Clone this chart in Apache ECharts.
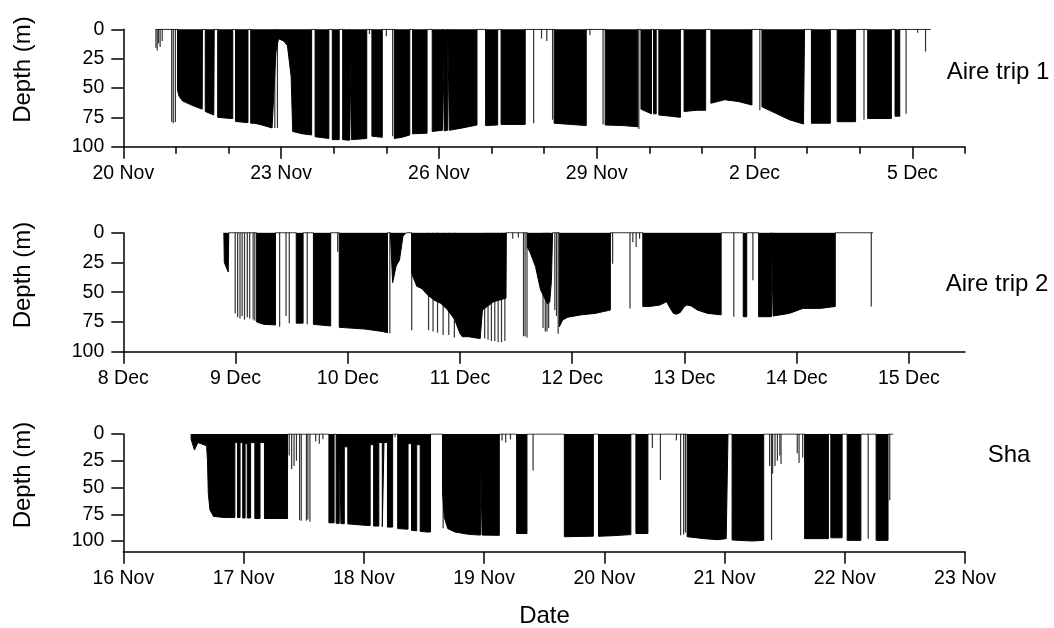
<!DOCTYPE html>
<html>
<head>
<meta charset="utf-8">
<script src="https://cdn.jsdelivr.net/npm/echarts@6/dist/echarts.min.js"></script>
<style>html,body{margin:0;padding:0;background:#fff;}#chart{width:1054px;height:628px;}</style>
</head>
<body>
<div id="chart"></div>
<script>
// ---------- DATA (x = days since first axis date, y = depth in m) ----------
// Panel 1: Aire trip 1 (axis starts 20 Nov)
const trip1TickValues = [0, 3, 6, 9, 12, 15];
const trip1TickLabels = ['20 Nov', '23 Nov', '26 Nov', '29 Nov', '2 Dec', '5 Dec'];
const trip1DayTicks = [0,1,2,3,4,5,6,7,8,9,10,11,12,13,14,15,16];
const trip1Profile = [
  [0.615,0],[1.03,0],[1.03,52],[1.06,57],[1.125,61],[1.32,65],[1.50,68],[1.505,0],
  [1.558,0],[1.558,70],[1.72,73],[1.728,0],
  [1.794,0],[1.794,75],[2.042,76],[2.081,76],[2.081,0],
  [2.134,0],[2.134,78.5],[2.37,79.5],[2.37,0],
  [2.422,0],[2.422,80],[2.5,80],[2.631,81.5],[2.828,84],[2.86,84],[2.9,20],[2.95,8],[3.05,10],[3.12,14],[3.19,40],[3.22,87],[3.4,89],[3.58,90],[3.58,0],
  [3.646,0],[3.646,91.5],[3.908,93],[3.908,0],
  [3.973,0],[3.973,94],[4.104,94],[4.104,0],
  [4.17,0],[4.17,94],[4.30,94.5],[4.30,0],
  [4.334,0],[4.334,94],[4.628,93],[4.628,0],
  [4.726,0],[4.726,91],[4.923,92],[4.923,0],
  [5.152,0],[5.152,93],[5.30,92],[5.446,90],[5.446,0],
  [5.499,0],[5.499,89],[5.774,88.5],[5.774,0],
  [5.872,0],[5.872,87],[6.068,86],[6.068,0],
  [6.101,0],[6.101,86.5],[6.167,86],[6.167,0],
  [6.199,0],[6.199,86],[6.45,84],[6.723,81.5],[6.723,0],
  [6.887,0],[6.887,82],[7.116,81.5],[7.116,0],
  [7.181,0],[7.181,81],[7.64,81],[7.64,0],
  [8.19,0],[8.19,80],[8.5,81],[8.80,82],[8.80,0],
  [9.16,0],[9.16,81.5],[9.5,82],[9.78,83],[9.78,0],
  [9.84,0],[9.84,68],[10.04,72],[10.04,0],
  [10.08,0],[10.08,72],[10.13,72],[10.13,0],
  [10.18,0],[10.18,73],[10.4,74],[10.59,75],[10.59,0],
  [10.66,0],[10.66,70],[10.9,69],[11.07,69],[11.07,0],
  [11.17,0],[11.17,63],[11.43,60],[11.69,61.5],[11.95,64.5],[11.95,0],
  [12.14,0],[12.14,66],[12.40,71.5],[12.66,77],[12.93,80.7],[12.95,80.7],[12.95,0],
  [13.08,0],[13.08,80],[13.44,80],[13.44,0],
  [13.57,0],[13.57,78.7],[13.92,78.7],[13.92,0],
  [14.15,0],[14.15,76],[14.6,76],[14.6,0],
  [14.67,0],[14.67,74],[14.76,74],[14.76,0],
  [15.35,0]
];
const trip1Dives = [
  [0.62,16],[0.645,18],[0.67,12],[0.7,15],[0.74,10],[0.92,79],[0.95,80],[0.99,79],
  [2.88,84],[2.93,84],[4.68,4],[5.0,6],[5.12,91],[7.8,80],[7.95,8],[8.05,10],[8.16,77],
  [8.87,5],[9.12,81],[9.8,85],[12.1,69],[14.08,77],[14.88,72],[15.1,3],[15.25,19]
];

// Panel 2: Aire trip 2 (axis starts 8 Dec)
const trip2TickValues = [0, 1, 2, 3, 4, 5, 6, 7];
const trip2TickLabels = ['8 Dec', '9 Dec', '10 Dec', '11 Dec', '12 Dec', '13 Dec', '14 Dec', '15 Dec'];
const trip2Profile = [
  [0.896,0],[0.90,25],[0.935,33],[0.94,0],
  [1.188,0],[1.188,75],[1.25,77],[1.356,77.5],[1.356,0],
  [1.541,0],[1.541,76],[1.602,76],[1.602,0],
  [1.694,0],[1.694,77],[1.848,78.4],[1.848,0],
  [1.924,0],[1.924,79.5],[2.155,81],[2.308,83],[2.354,84],[2.354,0],
  [2.38,0],[2.40,42],[2.431,28],[2.461,23],[2.492,3],[2.523,0],
  [2.569,0],[2.569,34],[2.615,45],[2.661,47],[2.676,48],[2.707,52],[2.768,56.6],[2.83,59.4],[2.891,65],[2.953,73],[2.999,84.6],[3.02,87.4],[3.075,87.4],[3.18,89],[3.20,65],[3.3,58],[3.41,55],[3.413,0],
  [3.60,0],[3.60,12],[3.627,17],[3.673,28.6],[3.718,48],[3.749,54],[3.78,60],[3.80,58],[3.815,40],[3.825,0],
  [3.885,0],[3.885,79],[3.915,73.4],[3.961,71],[4.082,69],[4.204,67.8],[4.34,65],[4.34,0],
  [4.629,0],[4.629,62],[4.69,62],[4.781,60.8],[4.841,58],[4.87,63],[4.902,67.8],[4.93,68.5],[4.963,67],[5.0,62],[5.024,60.8],[5.06,61.5],[5.115,65],[5.206,67.8],[5.327,69],[5.327,0],
  [5.524,0],[5.524,70.6],[5.555,70.6],[5.555,0],
  [5.661,0],[5.661,70.6],[5.775,70.6],[5.775,0],
  [5.79,0],[5.79,70],[5.934,67.8],[6.056,63.6],[6.208,63.6],[6.344,62],[6.344,0],
  [6.68,0]
];
const trip2Dives = [
  [0.997,68],[1.019,71],[1.04,72],[1.059,70],[1.08,73],[1.105,71],[1.126,72],[1.157,73],[1.172,74],
  [1.393,79],[1.45,70],[1.479,76],[1.639,77],[1.91,16],[2.375,84.6],
  [2.57,82],[2.72,82],[2.76,83],[2.80,84],[2.85,86],[2.9,86],[2.95,88],
  [3.22,89],[3.25,90],[3.28,91],[3.31,91],[3.34,92],[3.37,92],[3.40,91],
  [3.47,5],[3.52,4],[3.566,87],[3.58,87],[3.597,88],
  [3.74,80],[3.76,83],[3.775,83],[3.79,80],[3.845,65],[3.86,70],[3.875,85],
  [4.36,26],[4.515,63.6],[4.54,8],[4.57,12],[4.60,5],[5.44,70.6],[5.61,40],[6.665,62]
];

// Panel 3: Sha (axis starts 16 Nov)
const shaTickValues = [0, 1, 2, 3, 4, 5, 6, 7];
const shaTickLabels = ['16 Nov', '17 Nov', '18 Nov', '19 Nov', '20 Nov', '21 Nov', '22 Nov', '23 Nov'];
const shaProfile = [
  [0.564,0],[0.564,5],[0.592,15],[0.62,8],[0.635,9],[0.693,11],[0.70,25],[0.707,55.6],[0.721,71],[0.75,77],[0.836,78],[0.928,78],[0.928,8],[0.95,8],[0.95,78],[0.971,78],[0.971,8],[0.993,8],[0.993,78.5],[1.013,78.5],[1.013,9],[1.031,9],[1.031,78.5],[1.059,78.5],[1.059,8],[1.094,8],[1.094,79],[1.137,79],[1.137,8],[1.174,8],[1.174,79],[1.266,79],[1.366,79],[1.366,0],
  [1.71,0],[1.71,83],[1.753,83],[1.753,0],[1.77,0],[1.77,83.5],[1.796,83.5],[1.796,0],[1.81,0],[1.81,83.8],[1.838,83.8],[1.838,12],[1.867,12],[1.867,84],[2.01,85.3],[2.053,85.5],[2.053,10],[2.082,10],[2.082,86],[2.125,86],[2.125,8],[2.154,8],[2.154,86.5],[2.168,86.5],[2.168,8],[2.197,8],[2.197,87],[2.24,87],[2.24,0],
  [2.282,0],[2.282,88.4],[2.368,89],[2.368,9],[2.397,9],[2.397,90],[2.44,90.5],[2.44,10],[2.469,10],[2.469,91],[2.526,91.6],[2.555,91.6],[2.555,0],
  [2.655,0],[2.655,55],[2.67,78],[2.698,88.4],[2.755,91.5],[2.87,93.75],[2.97,94.5],[2.97,12],[2.984,12],[2.984,94.5],[3.127,94.7],[3.127,0],
  [3.271,0],[3.271,93],[3.357,93],[3.357,0],
  [3.668,0],[3.668,96],[3.909,95.5],[3.909,0],
  [3.952,0],[3.952,95.6],[4.08,95],[4.221,94],[4.221,0],
  [4.263,0],[4.263,93],[4.363,93],[4.363,0],
  [4.689,0],[4.689,96],[4.83,97.8],[4.944,98.75],[5.014,97.8],[5.029,97.8],[5.029,0],
  [5.063,0],[5.063,99],[5.114,99.4],[5.227,100],[5.326,99.4],[5.326,0],
  [5.666,0],[5.666,97.8],[5.864,97.8],[5.864,0],
  [5.884,0],[5.884,97],[5.978,97],[5.978,0],
  [6.02,0],[6.02,99.4],[6.134,99.4],[6.134,0],
  [6.261,0],[6.261,99.4],[6.36,99.4],[6.36,0],
  [6.403,0]
];
const shaDives = [
  [1.38,20],[1.40,33],[1.42,30],[1.44,25],[1.466,80.6],[1.48,81],[1.523,81],[1.535,80],[1.552,82],
  [1.60,7],[1.63,9],[1.66,5],[2.26,3],[2.50,91],[2.53,91.6],[2.66,88],
  [3.15,6],[3.18,8],[3.22,5],[3.408,34],[4.40,13],[4.467,43],[4.60,6],
  [4.635,94.7],[4.66,94],[4.675,92],
  [5.375,30],[5.391,99],[5.40,37],[5.42,30],[5.44,25],[5.46,20],[5.47,28],
  [5.605,18],[5.62,27],[5.65,22],[6.195,98],[6.374,62]
];

const depthTickValues = [0, 25, 50, 75, 100];

// ---------- CHART ----------
const FONT = 'Liberation Sans, Arial, sans-serif';
const chart = echarts.init(document.getElementById('chart'), null, {renderer: 'canvas'});

const panels = [
  {top: 29.3, height: 117.4, xmax: 16, ymax: 100, ticks: trip1TickValues, labels: trip1TickLabels, profile: trip1Profile, dives: trip1Dives},
  {top: 232.7, height: 119, xmax: 7.5, ymax: 100, ticks: trip2TickValues, labels: trip2TickLabels, profile: trip2Profile, dives: trip2Dives},
  {top: 434, height: 117.7, xmax: 7, ymax: 110, ticks: shaTickValues, labels: shaTickLabels, profile: shaProfile, dives: shaDives}
];

const grid = [], xAxis = [], yAxis = [], series = [];
const axisLineStyle = {color: '#000', width: 1.5};
panels.forEach((p, i) => {
  grid.push({left: 123.3, width: 841.7, top: p.top, height: p.height, containLabel: false});
  xAxis.push({
    type: 'value', gridIndex: i, min: 0, max: p.xmax, position: 'bottom',
    axisLine: {show: true, onZero: false, lineStyle: axisLineStyle},
    axisTick: {show: true, customValues: p.ticks, length: 12, lineStyle: axisLineStyle},
    axisLabel: {show: true, customValues: p.ticks, margin: 17, color: '#000', fontFamily: FONT, fontSize: 19.5,
      formatter: (v) => { const k = p.ticks.indexOf(v); return k >= 0 ? p.labels[k] : ''; }},
    splitLine: {show: false}
  });
  yAxis.push({
    type: 'value', gridIndex: i, inverse: true, min: 0, max: p.ymax,
    axisLine: {show: true, onZero: false, lineStyle: axisLineStyle},
    axisTick: {show: true, customValues: depthTickValues, length: 12, lineStyle: axisLineStyle},
    axisLabel: {show: true, customValues: depthTickValues, margin: 19, color: '#000', fontFamily: FONT, fontSize: 19.5},
    splitLine: {show: false}
  });
  series.push({
    type: 'line', xAxisIndex: i, yAxisIndex: i, data: p.profile,
    symbol: 'none', showSymbol: false, silent: true,
    lineStyle: {color: '#000', width: 1}, areaStyle: {color: '#000', opacity: 1}
  });
  series.push({
    type: 'bar', xAxisIndex: i, yAxisIndex: i, data: p.dives, barWidth: 1.2, silent: true,
    itemStyle: {color: '#333'}
  });
});
// overlay grid for the daily (unlabelled) ticks of panel 1
grid.push({left: 123.3, width: 841.7, top: panels[0].top, height: panels[0].height, containLabel: false});
xAxis.push({
  type: 'value', gridIndex: 3, min: 0, max: panels[0].xmax, position: 'bottom',
  axisLine: {show: false, onZero: false},
  axisTick: {show: true, customValues: trip1DayTicks, length: 7, lineStyle: axisLineStyle},
  axisLabel: {show: false}, splitLine: {show: false}
});
yAxis.push({type: 'value', gridIndex: 3, show: false, min: 0, max: 100, inverse: true});

const titleStyle = {fill: '#000', font: '24px ' + FONT, textAlign: 'left', textVerticalAlign: 'top'};
const graphic = [
  {type: 'text', left: 946.7, top: 60, style: Object.assign({}, titleStyle, {text: 'Aire trip 1'})},
  {type: 'text', left: 945.7, top: 272, style: Object.assign({}, titleStyle, {text: 'Aire trip 2'})},
  {type: 'text', left: 987.7, top: 443, style: Object.assign({}, titleStyle, {text: 'Sha'})},
  {type: 'text', x: 544.5, y: 616.5, style: {text: 'Date', fill: '#000', font: '24px ' + FONT, textAlign: 'center', textVerticalAlign: 'middle'}},
  {type: 'text', x: 23.3, y: 69.5, rotation: Math.PI / 2, style: {text: 'Depth (m)', fill: '#000', font: '24px ' + FONT, textAlign: 'center', textVerticalAlign: 'middle'}},
  {type: 'text', x: 23.3, y: 275, rotation: Math.PI / 2, style: {text: 'Depth (m)', fill: '#000', font: '24px ' + FONT, textAlign: 'center', textVerticalAlign: 'middle'}},
  {type: 'text', x: 23.3, y: 475, rotation: Math.PI / 2, style: {text: 'Depth (m)', fill: '#000', font: '24px ' + FONT, textAlign: 'center', textVerticalAlign: 'middle'}}
];

chart.setOption({
  animation: false,
  backgroundColor: '#fff',
  grid, xAxis, yAxis, series, graphic
});
</script>
</body>
</html>
